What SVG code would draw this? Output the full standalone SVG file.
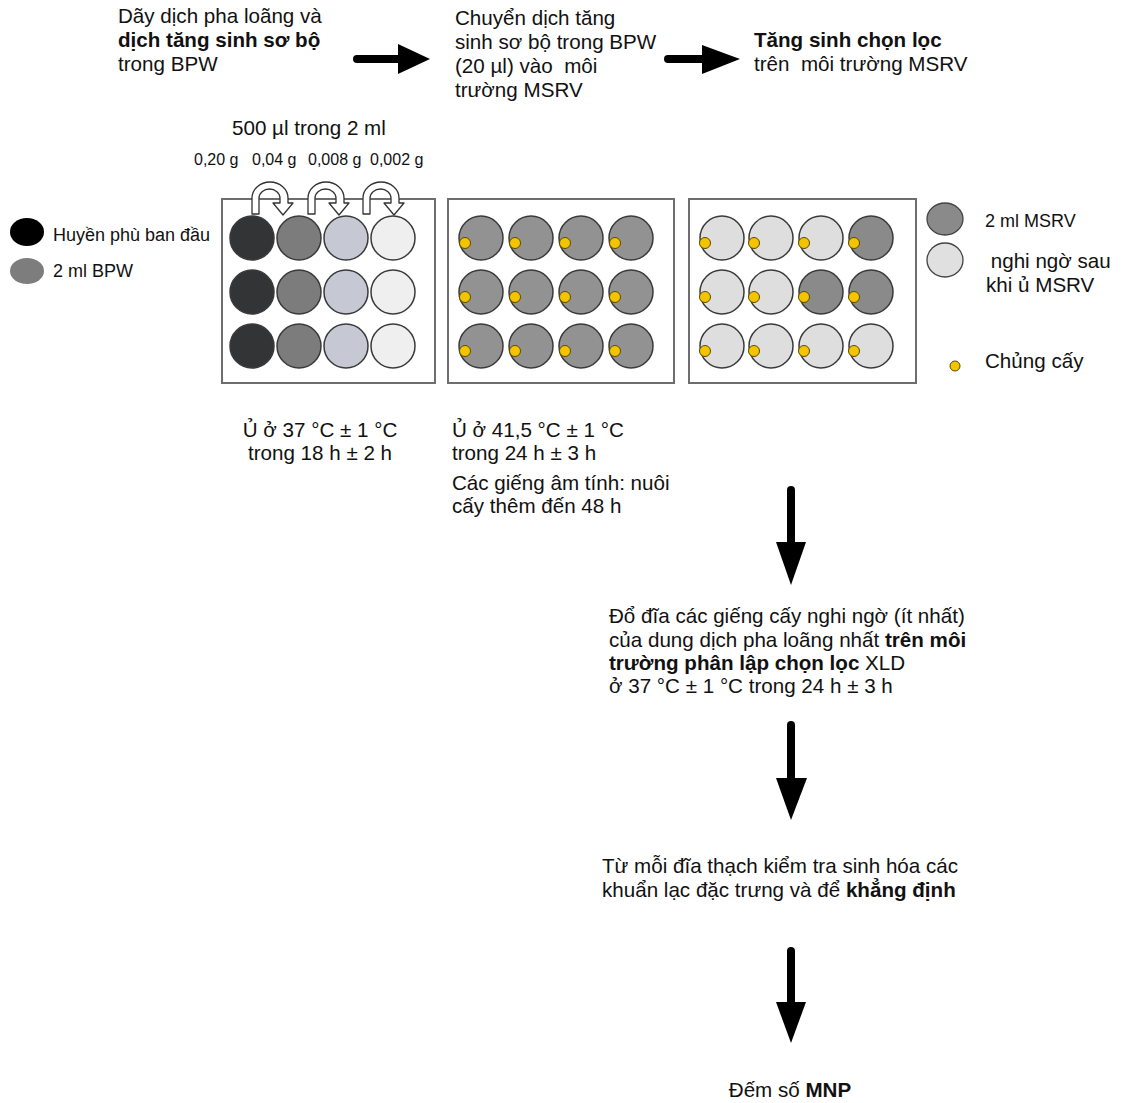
<svg xmlns="http://www.w3.org/2000/svg" width="1125" height="1103" viewBox="0 0 1125 1103">
<style>
text{font-family:"Liberation Sans",Arial,sans-serif;fill:#111;white-space:pre}
.t20{font-size:20.6px}
.t18{font-size:18px}
.t16{font-size:16px}
.b{font-weight:bold}
.plate{fill:#fff;stroke:#6e6e6e;stroke-width:2}
.w{stroke:#3a3a3a;stroke-width:1.5}
.d1{fill:#333435}.d2{fill:#7c7c7c}.d3{fill:#c6c9d3}.d4{fill:#efefef}
.g{fill:#929292}.lt{fill:#dedede}.dk{fill:#8a8a8a}
.dot{fill:#f5c400;stroke:#5a4a00;stroke-width:1}
.arr{stroke:#000;stroke-width:8;stroke-linecap:round}
.ah{fill:#000}
.curl{fill:#fff;stroke:#333;stroke-width:1.3;stroke-linejoin:round}
</style>

<g id="text-step1">
<text class="t20" x="118" y="23">Dãy dịch pha loãng và</text>
<text class="t20 b" x="118" y="47">dịch tăng sinh sơ bộ</text>
<text class="t20" x="118" y="71">trong BPW</text>
</g>
<g id="text-step2">
<text class="t20" x="455" y="25">Chuyển dịch tăng</text>
<text class="t20" x="455" y="49">sinh sơ bộ trong BPW</text>
<text class="t20" x="455" y="73">(20 µl) vào  môi</text>
<text class="t20" x="455" y="97">trường MSRV</text>
</g>
<g id="text-step3">
<text class="t20 b" x="754" y="47">Tăng sinh chọn lọc</text>
<text class="t20" x="754" y="71">trên  môi trường MSRV</text>
</g>

<g id="dilution-labels">
<text class="t20" x="232" y="135">500 µl trong 2 ml</text>
<text class="t16" x="194" y="165">0,20 g</text>
<text class="t16" x="252" y="165">0,04 g</text>
<text class="t16" x="308" y="165">0,008 g</text>
<text class="t16" x="370" y="165">0,002 g</text>
</g>

<g id="legend-left">
<ellipse cx="27" cy="232" rx="17" ry="14" fill="#000"/>
<text class="t18" x="53" y="241">Huyền phù ban đầu</text>
<ellipse cx="27" cy="271" rx="17" ry="13" fill="#7d7d7d"/>
<text class="t18" x="53" y="277">2 ml BPW</text>
</g>

<g id="plate1">
<rect class="plate" x="222" y="199" width="213" height="184"/>
<g class="w">
<circle class="d1" cx="252" cy="238" r="22"/><circle class="d2" cx="299" cy="238" r="22"/><circle class="d3" cx="346" cy="238" r="22"/><circle class="d4" cx="393" cy="238" r="22"/>
<circle class="d1" cx="252" cy="292" r="22"/><circle class="d2" cx="299" cy="292" r="22"/><circle class="d3" cx="346" cy="292" r="22"/><circle class="d4" cx="393" cy="292" r="22"/>
<circle class="d1" cx="252" cy="346" r="22"/><circle class="d2" cx="299" cy="346" r="22"/><circle class="d3" cx="346" cy="346" r="22"/><circle class="d4" cx="393" cy="346" r="22"/>
</g>
</g>

<g id="plate2">
<rect class="plate" x="448" y="199" width="226" height="184"/>
<g class="w">
<circle class="g" cx="481" cy="238" r="22"/><circle class="g" cx="531" cy="238" r="22"/><circle class="g" cx="581" cy="238" r="22"/><circle class="g" cx="631" cy="238" r="22"/>
<circle class="g" cx="481" cy="292" r="22"/><circle class="g" cx="531" cy="292" r="22"/><circle class="g" cx="581" cy="292" r="22"/><circle class="g" cx="631" cy="292" r="22"/>
<circle class="g" cx="481" cy="346" r="22"/><circle class="g" cx="531" cy="346" r="22"/><circle class="g" cx="581" cy="346" r="22"/><circle class="g" cx="631" cy="346" r="22"/>
</g>
<g>
<circle class="dot" cx="465" cy="243" r="5.5"/><circle class="dot" cx="515" cy="243" r="5.5"/><circle class="dot" cx="565" cy="243" r="5.5"/><circle class="dot" cx="615" cy="243" r="5.5"/>
<circle class="dot" cx="465" cy="297" r="5.5"/><circle class="dot" cx="515" cy="297" r="5.5"/><circle class="dot" cx="565" cy="297" r="5.5"/><circle class="dot" cx="615" cy="297" r="5.5"/>
<circle class="dot" cx="465" cy="351" r="5.5"/><circle class="dot" cx="515" cy="351" r="5.5"/><circle class="dot" cx="565" cy="351" r="5.5"/><circle class="dot" cx="615" cy="351" r="5.5"/>
</g>
</g>

<g id="plate3">
<rect class="plate" x="689" y="199" width="227" height="184"/>
<g class="w">
<circle class="lt" cx="722" cy="238" r="22"/><circle class="lt" cx="771" cy="238" r="22"/><circle class="lt" cx="821" cy="238" r="22"/><circle class="dk" cx="871" cy="238" r="22"/>
<circle class="lt" cx="722" cy="292" r="22"/><circle class="lt" cx="771" cy="292" r="22"/><circle class="dk" cx="821" cy="292" r="22"/><circle class="dk" cx="871" cy="292" r="22"/>
<circle class="lt" cx="722" cy="346" r="22"/><circle class="lt" cx="771" cy="346" r="22"/><circle class="lt" cx="821" cy="346" r="22"/><circle class="lt" cx="871" cy="346" r="22"/>
</g>
<g>
<circle class="dot" cx="705" cy="243" r="5.5"/><circle class="dot" cx="754" cy="243" r="5.5"/><circle class="dot" cx="804" cy="243" r="5.5"/><circle class="dot" cx="854" cy="243" r="5.5"/>
<circle class="dot" cx="705" cy="297" r="5.5"/><circle class="dot" cx="754" cy="297" r="5.5"/><circle class="dot" cx="804" cy="297" r="5.5"/><circle class="dot" cx="854" cy="297" r="5.5"/>
<circle class="dot" cx="705" cy="351" r="5.5"/><circle class="dot" cx="754" cy="351" r="5.5"/><circle class="dot" cx="804" cy="351" r="5.5"/><circle class="dot" cx="854" cy="351" r="5.5"/>
</g>
</g>

<g id="legend-right">
<ellipse cx="945" cy="219" rx="18" ry="16" fill="#8a8a8a" stroke="#444" stroke-width="1.3"/>
<text class="t18" x="985" y="227">2 ml MSRV</text>
<ellipse cx="945" cy="260" rx="18" ry="17" fill="#e0e0e0" stroke="#444" stroke-width="1.3"/>
<text class="t20" x="985" y="268"> nghi ngờ sau</text>
<text class="t20" x="986" y="292">khi ủ MSRV</text>
<circle class="dot" cx="955" cy="366" r="5"/>
<text class="t20" x="985" y="368">Chủng cấy</text>
</g>

<g id="text-incubation1">
<text class="t20" x="320" y="437" text-anchor="middle">Ủ ở 37 °C ± 1 °C</text>
<text class="t20" x="320" y="460" text-anchor="middle">trong 18 h ± 2 h</text>
</g>
<g id="text-incubation2">
<text class="t20" x="452" y="437">Ủ ở 41,5 °C ± 1 °C</text>
<text class="t20" x="452" y="460">trong 24 h ± 3 h</text>
<text class="t20" x="452" y="490">Các giếng âm tính: nuôi</text>
<text class="t20" x="452" y="513">cấy thêm đến 48 h</text>
</g>

<g id="text-plating">
<text class="t20" x="609" y="623">Đổ đĩa các giếng cấy nghi ngờ (ít nhất)</text>
<text class="t20" x="609" y="647">của dung dịch pha loãng nhất <tspan class="b">trên môi</tspan></text>
<text class="t20 b" x="609" y="670">trường phân lập chọn lọc <tspan font-weight="normal">XLD</tspan></text>
<text class="t20" x="609" y="693">ở 37 °C ± 1 °C trong 24 h ± 3 h</text>
</g>
<g id="text-confirm">
<text class="t20" x="602" y="873">Từ mỗi đĩa thạch kiểm tra sinh hóa các</text>
<text class="t20" x="602" y="897">khuẩn lạc đặc trưng và để <tspan class="b">khẳng định</tspan></text>
</g>
<g id="text-mnp">
<text class="t20" x="790" y="1097" text-anchor="middle">Đếm số <tspan class="b">MNP</tspan></text>
</g>

<g id="connectors">
<line class="arr" x1="357" y1="59" x2="402" y2="59"/>
<polygon class="ah" points="398,44 398,74 430,59"/>
<line class="arr" x1="668" y1="59" x2="706" y2="59"/>
<polygon class="ah" points="702,45 702,74 740,59"/>
<line class="arr" x1="791" y1="490" x2="791" y2="546"/>
<polygon class="ah" points="776,542 806,542 791,585"/>
<line class="arr" x1="791" y1="725" x2="791" y2="782"/>
<polygon class="ah" points="776,778 807,778 791,820"/>
<line class="arr" x1="791" y1="951" x2="791" y2="1006"/>
<polygon class="ah" points="776,1002 806,1002 791,1043"/>
<path class="curl" d="M252,214 L252,198 A18,16 0 0 1 288,198 L288,203 L293,203 L283,215 L273,203 L280,203 L280,198 A10.5,9 0 0 0 259,198 L259,214 Z"/>
<path class="curl" d="M308,214 L308,198 A18,16 0 0 1 344,198 L344,203 L349,203 L339,215 L329,203 L336,203 L336,198 A10.5,9 0 0 0 315,198 L315,214 Z"/>
<path class="curl" d="M363,214 L363,198 A18,16 0 0 1 399,198 L399,203 L404,203 L394,215 L384,203 L391,203 L391,198 A10.5,9 0 0 0 370,198 L370,214 Z"/>
</g>
</svg>
